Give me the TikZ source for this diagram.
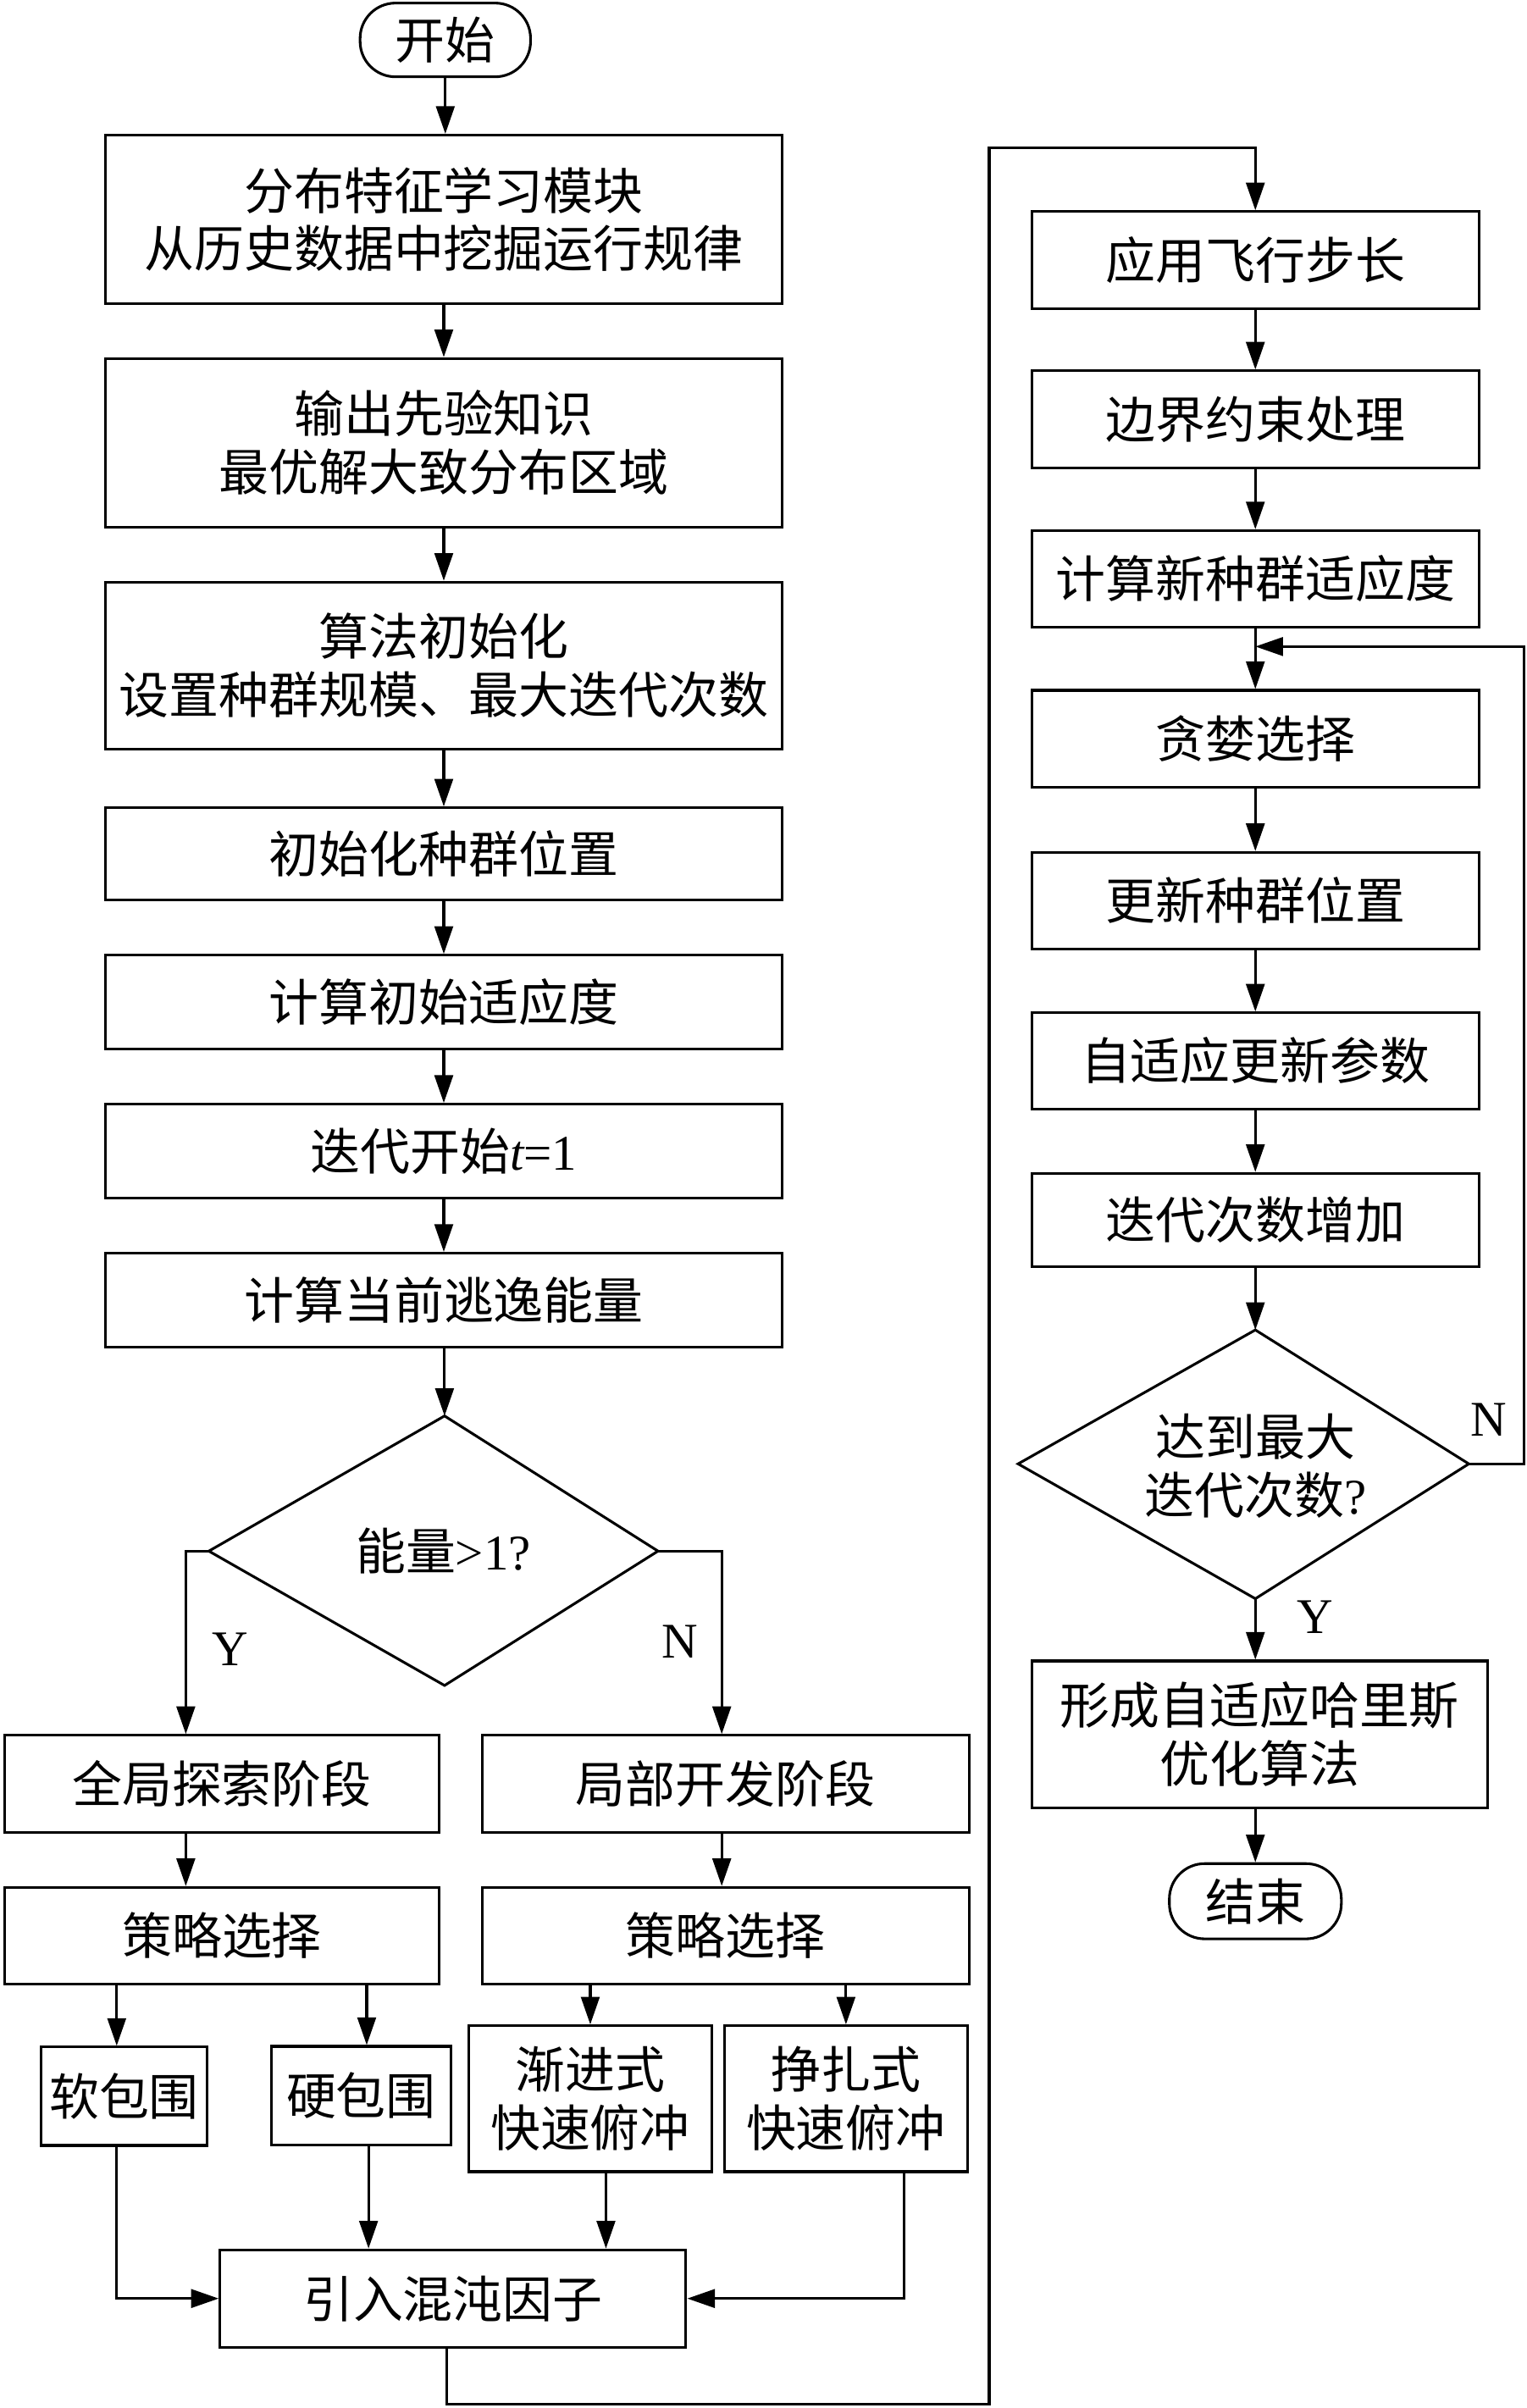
\documentclass[tikz,border=0pt]{standalone}
\usepackage{fontspec}
\setmainfont{Liberation Serif}
\newfontfamily\cjk{Noto Sans CJK SC}
\usetikzlibrary{arrows.meta,calc}
\begin{document}
\begin{tikzpicture}[x=1pt,y=-1pt,
  base/.style={draw, line width=1.7pt, inner sep=0pt, align=center,
    font=\cjk\fontsize{32.5pt}{38pt}\selectfont},
  proc/.style={base, rectangle},
  term/.style={base, rectangle, rounded corners=23pt},
  txt/.style={inner sep=0pt, align=center, font=\cjk\fontsize{32.5pt}{38pt}\selectfont},
  lbl/.style={inner sep=0pt, font=\rmfamily\fontsize{32.5pt}{38pt}\selectfont},
  ln/.style={line width=1.7pt},
  arr/.style={line width=1.7pt, -{Triangle[length=18pt,width=12pt]}},
  dia/.style={line width=1.7pt, line join=miter}
]
\useasboundingbox (0,0) rectangle (994,1568);

% ---------- left column ----------
\node[term, minimum width=111pt, minimum height=48pt] (start) at (290,26) {开始};
\node[proc, minimum width=441pt, minimum height=109.6pt] (b1) at (289,142.8) {分布特征学习模块\\从历史数据中挖掘运行规律};
\node[proc, minimum width=441pt, minimum height=110pt] (b2) at (289,288.4) {输出先验知识\\最优解大致分布区域};
\node[proc, minimum width=441pt, minimum height=109pt] (b3) at (289,433.5) {算法初始化\\设置种群规模、最大迭代次数};
\node[proc, minimum width=441pt, minimum height=60pt] (b4) at (289,556) {初始化种群位置};
\node[proc, minimum width=441pt, minimum height=61pt] (b5) at (289,652.5) {计算初始适应度};
\node[proc, minimum width=441pt, minimum height=61pt] (b6) at (289,749.5) {迭代开始{\rmfamily\itshape t}{\rmfamily =1}};
\node[proc, minimum width=441pt, minimum height=61pt] (b7) at (289,846.5) {计算当前逃逸能量};

% decision 1
\coordinate (d1t) at (289.5,922);
\coordinate (d1r) at (428.5,1010);
\coordinate (d1b) at (289.5,1097.5);
\coordinate (d1l) at (136,1010);
\draw[dia] (d1t) -- (d1r) -- (d1b) -- (d1l) -- cycle;
\node[txt] (d1) at (288.7,1010) {能量{\rmfamily >1?}};
\node[lbl] (y1) at (149.7,1074) {Y};
\node[lbl] (n1) at (443,1069) {N};

\node[proc, minimum width=283pt, minimum height=63pt] (gl) at (144.5,1161.5) {全局探索阶段};
\node[proc, minimum width=317pt, minimum height=63pt] (lr) at (472.5,1161.5) {局部开发阶段};
\node[proc, minimum width=283pt, minimum height=63pt] (sl) at (144.5,1260.5) {策略选择};
\node[proc, minimum width=317pt, minimum height=63pt] (sr) at (472.5,1260.5) {策略选择};

\node[proc, minimum width=108pt, minimum height=64pt] (soft) at (80.8,1365) {软包围};
\node[proc, minimum width=117pt, minimum height=64pt] (hard) at (235.2,1364.5) {硬包围};
\node[proc, minimum width=158pt, minimum height=95pt] (prog) at (384.4,1366.6) {渐进式\\快速俯冲};
\node[proc, minimum width=158.6pt, minimum height=95pt] (strug) at (550.9,1366.6) {挣扎式\\快速俯冲};
\node[proc, minimum width=303.4pt, minimum height=63.4pt] (chaos) at (295,1496.7) {引入混沌因子};

% ---------- right column ----------
\node[proc, minimum width=291pt, minimum height=63pt] (r1) at (817.5,169.3) {应用飞行步长};
\node[proc, minimum width=291pt, minimum height=63pt] (r2) at (817.5,273) {边界约束处理};
\node[proc, minimum width=291pt, minimum height=63pt] (r3) at (817.5,377) {计算新种群适应度};
\node[proc, minimum width=291pt, minimum height=63pt] (r4) at (817.5,481) {贪婪选择};
\node[proc, minimum width=291pt, minimum height=62.7pt] (r5) at (817.5,586.4) {更新种群位置};
\node[proc, minimum width=291pt, minimum height=62.5pt] (r6) at (817.5,690.8) {自适应更新参数};
\node[proc, minimum width=291pt, minimum height=61pt] (r7) at (817.5,794.5) {迭代次数增加};

\coordinate (d2t) at (817.5,866);
\coordinate (d2r) at (956.5,953.2);
\coordinate (d2b) at (817.5,1041);
\coordinate (d2l) at (663,953.2);
\draw[dia] (d2t) -- (d2r) -- (d2b) -- (d2l) -- cycle;
\node[txt] (d2) at (817.5,954.5) {达到最大\\迭代次数{\rmfamily ?}};
\node[lbl] (n2) at (969.4,924.5) {N};
\node[lbl] (y2) at (856.4,1053) {Y};

\node[proc, minimum width=296.7pt, minimum height=95.7pt] (r8) at (820.2,1129.4) {形成自适应哈里斯\\优化算法};
\node[term, minimum width=112pt, minimum height=49pt] (end) at (817.5,1238) {结束};

% ---------- connectors ----------
\draw[arr] (start.south) -- (start.south |- b1.north);
\draw[arr] (b1.south) -- (b2.north);
\draw[arr] (b2.south) -- (b3.north);
\draw[arr] (b3.south) -- (b4.north);
\draw[arr] (b4.south) -- (b5.north);
\draw[arr] (b5.south) -- (b6.north);
\draw[arr] (b6.south) -- (b7.north);
\draw[arr] (b7.south -| d1t) -- (d1t);

\draw[arr] (d1l) -| ([xshift=-23.5pt]gl.north);
\draw[arr] (d1r) -| ([xshift=-2.5pt]lr.north);
\draw[arr] ([xshift=-23.5pt]gl.south) -- ([xshift=-23.5pt]sl.north);
\draw[arr] ([xshift=-2.5pt]lr.south) -- ([xshift=-2.5pt]sr.north);

\draw[arr] ([xshift=-4.8pt]soft.north |- sl.south) -- ([xshift=-4.8pt]soft.north);
\draw[arr] ([xshift=3.6pt]hard.north |- sl.south) -- ([xshift=3.6pt]hard.north);
\draw[arr] (prog.north |- sr.south) -- (prog.north);
\draw[arr] (strug.north |- sr.south) -- (strug.north);

\draw[arr] ([xshift=-4.8pt]soft.south) |- (chaos.west);
\draw[arr] ([xshift=4.8pt]hard.south) -- ([xshift=4.8pt]hard.south |- chaos.north);
\draw[arr] ([xshift=10.2pt]prog.south) -- ([xshift=10.2pt]prog.south |- chaos.north);
\draw[arr] ([xshift=38.1pt]strug.south) |- (chaos.east);

\coordinate (lb) at (291,1565.7);
\coordinate (lt) at (644.2,96);
\draw[arr] ([xshift=-4pt]chaos.south) -- (lb) -| (lt) -| (r1.north);

\draw[arr] (r1.south) -- (r2.north);
\draw[arr] (r2.south) -- (r3.north);
\draw[arr] (r3.south) -- (r4.north);
\draw[arr] (r4.south) -- (r5.north);
\draw[arr] (r5.south) -- (r6.north);
\draw[arr] (r6.south) -- (r7.north);
\draw[arr] (r7.south) -- (d2t);

\coordinate (nr) at (992.3,421);
\draw[arr] (d2r) -| (nr) -- (nr -| r3.south);
\draw[arr] (d2b) -- (d2b |- r8.north);
\draw[arr] (r8.south -| end.north) -- (end.north);
\end{tikzpicture}
\end{document}
